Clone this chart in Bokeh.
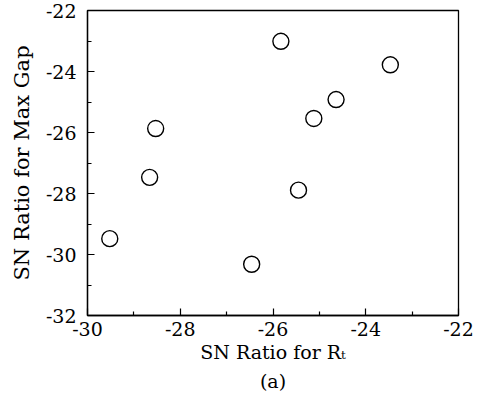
from bokeh.plotting import figure
from bokeh.models import FixedTicker, ColumnDataSource, Range1d, Title
from bokeh.embed import file_html
from bokeh.resources import INLINE

# data
sn_rt = [-29.52, -28.66, -28.53, -26.46, -25.83, -25.45, -25.12, -24.64, -23.47]
sn_gap = [-29.48, -27.47, -25.87, -30.32, -23.01, -27.89, -25.54, -24.92, -23.78]

x_major = [-30, -28, -26, -24, -22]
x_minor = [-29, -27, -25, -23]
x_labels = ["-30", "-28", "-26", "-24", "-22"]
y_major = [-32, -30, -28, -26, -24, -22]
y_minor = [-31, -29, -27, -25, -23]
y_labels = ["-32", "-30", "-28", "-26", "-24", "-22"]

x_title = "SN Ratio for Rₜ"
y_title = "SN Ratio for Max Gap"
panel_tag = "(a)"

FONT = "DejaVu Serif"

p = figure(width=478, height=401, output_backend="svg", toolbar_location=None,
           x_range=Range1d(-30, -22), y_range=Range1d(-32, -22),
           min_border_left=87, min_border_right=20, min_border_top=10, min_border_bottom=86)
p.grid.visible = False
p.outline_line_color = "black"
p.outline_line_width = 1.3
p.background_fill_color = "white"

src = ColumnDataSource(dict(x=sn_rt, y=sn_gap))
p.scatter("x", "y", source=src, size=16, fill_color="white", line_color="black", line_width=1.4)

p.xaxis.ticker = FixedTicker(ticks=x_major, minor_ticks=x_minor)
p.yaxis.ticker = FixedTicker(ticks=y_major, minor_ticks=y_minor)
p.xaxis.major_label_overrides = {v: s for v, s in zip(x_major, x_labels)}
p.yaxis.major_label_overrides = {v: s for v, s in zip(y_major, y_labels)}

p.xaxis.axis_label = x_title
p.yaxis.axis_label = y_title

for ax in (p.xaxis[0], p.yaxis[0]):
    ax.axis_line_color = "black"
    ax.axis_line_width = 1.3
    ax.major_tick_in = 7
    ax.major_tick_out = 0
    ax.minor_tick_in = 4
    ax.minor_tick_out = 0
    ax.major_tick_line_color = "black"
    ax.minor_tick_line_color = "black"
    ax.major_tick_line_width = 1.2
    ax.minor_tick_line_width = 1.2
    ax.major_label_text_font = FONT
    ax.major_label_text_font_size = "19px"
    ax.major_label_text_color = "black"
    ax.axis_label_text_font = FONT
    ax.axis_label_text_font_style = "normal"
    ax.axis_label_text_color = "black"

p.xaxis.axis_label_text_font_size = "19px"
p.yaxis.axis_label_text_font_size = "21px"
p.xaxis.major_label_standoff = 6
p.yaxis.major_label_standoff = 11
p.xaxis.axis_label_standoff = 2
p.yaxis.axis_label_standoff = 9

p.add_layout(Title(text=panel_tag, align="center", text_font=FONT, text_font_size="19px",
                   text_font_style="normal", text_color="black", standoff=4), "below")

open("out.html", "w").write(file_html(p, INLINE))
